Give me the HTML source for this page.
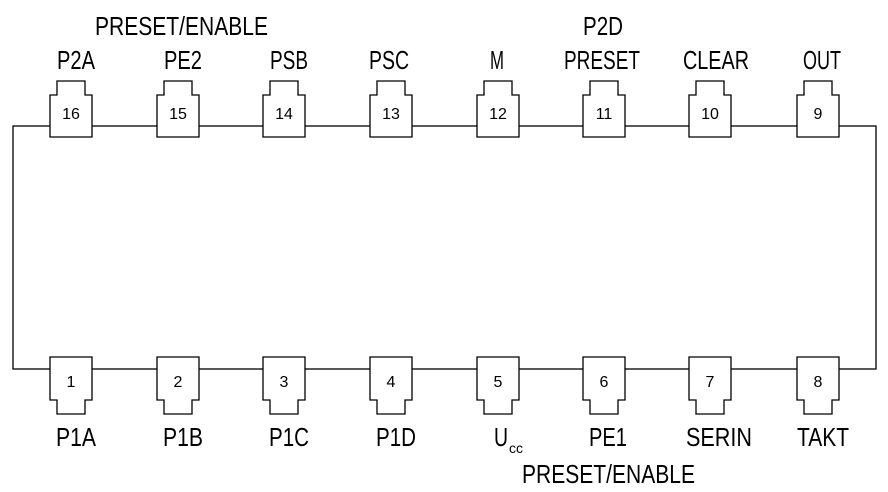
<!DOCTYPE html>
<html><head><meta charset="utf-8"><style>html,body{margin:0;padding:0;background:#fff}svg{display:block}</style></head>
<body>
<svg width="888" height="492" viewBox="0 0 888 492" xmlns="http://www.w3.org/2000/svg">
<rect x="13" y="126" width="863" height="243" fill="none" stroke="#000" stroke-width="1.3"/>
<g stroke="#000" stroke-width="1.3" fill="#fff">
<path d="M50,95 H57 V81 H85 V95 H92 V137 H50 Z"/>
<path d="M157,95 H164 V81 H192 V95 H199 V137 H157 Z"/>
<path d="M263,95 H270 V81 H298 V95 H305 V137 H263 Z"/>
<path d="M370,95 H377 V81 H405 V95 H412 V137 H370 Z"/>
<path d="M477,95 H484 V81 H512 V95 H519 V137 H477 Z"/>
<path d="M583,95 H590 V81 H618 V95 H625 V137 H583 Z"/>
<path d="M689,95 H696 V81 H724 V95 H731 V137 H689 Z"/>
<path d="M797,95 H804 V81 H832 V95 H839 V137 H797 Z"/>
<path d="M50,357 H92 V400 H85 V414 H57 V400 H50 Z"/>
<path d="M157,357 H199 V400 H192 V414 H164 V400 H157 Z"/>
<path d="M263,357 H305 V400 H298 V414 H270 V400 H263 Z"/>
<path d="M370,357 H412 V400 H405 V414 H377 V400 H370 Z"/>
<path d="M477,357 H519 V400 H512 V414 H484 V400 H477 Z"/>
<path d="M583,357 H625 V400 H618 V414 H590 V400 H583 Z"/>
<path d="M689,357 H731 V400 H724 V414 H696 V400 H689 Z"/>
<path d="M797,357 H839 V400 H832 V414 H804 V400 H797 Z"/>
</g>
<g font-family="Liberation Sans, sans-serif" font-size="16" text-anchor="middle" fill="#000">
<text x="71" y="119">16</text><text x="178" y="119">15</text><text x="284" y="119">14</text><text x="391" y="119">13</text>
<text x="498" y="119">12</text><text x="604" y="119">11</text><text x="710" y="119">10</text><text x="818" y="119">9</text>
<text x="71" y="387">1</text><text x="178" y="387">2</text><text x="284" y="387">3</text><text x="391" y="387">4</text>
<text x="498" y="387">5</text><text x="604" y="387">6</text><text x="710" y="387">7</text><text x="818" y="387">8</text>
</g>
<g font-family="Liberation Sans, sans-serif" font-size="26" fill="#000">
<text x="95" y="35" textLength="173" lengthAdjust="spacingAndGlyphs">PRESET/ENABLE</text>
<text x="583" y="35" textLength="40" lengthAdjust="spacingAndGlyphs">P2D</text>
<text x="57" y="69" textLength="38" lengthAdjust="spacingAndGlyphs">P2A</text>
<text x="164" y="69" textLength="38" lengthAdjust="spacingAndGlyphs">PE2</text>
<text x="270" y="69" textLength="38" lengthAdjust="spacingAndGlyphs">PSB</text>
<text x="369" y="69" textLength="40" lengthAdjust="spacingAndGlyphs">PSC</text>
<text x="490" y="69" textLength="14" lengthAdjust="spacingAndGlyphs">M</text>
<text x="564" y="69" textLength="76" lengthAdjust="spacingAndGlyphs">PRESET</text>
<text x="683" y="69" textLength="66" lengthAdjust="spacingAndGlyphs">CLEAR</text>
<text x="803" y="69" textLength="38" lengthAdjust="spacingAndGlyphs">OUT</text>
<text x="56" y="446" textLength="40" lengthAdjust="spacingAndGlyphs">P1A</text>
<text x="163" y="446" textLength="40" lengthAdjust="spacingAndGlyphs">P1B</text>
<text x="269" y="446" textLength="40" lengthAdjust="spacingAndGlyphs">P1C</text>
<text x="376" y="446" textLength="40" lengthAdjust="spacingAndGlyphs">P1D</text>
<text x="494" y="446" textLength="14" lengthAdjust="spacingAndGlyphs">U</text>
<text x="509" y="453" font-size="14" textLength="14" lengthAdjust="spacingAndGlyphs">cc</text>
<text x="589" y="446" textLength="38" lengthAdjust="spacingAndGlyphs">PE1</text>
<text x="686" y="446" textLength="66" lengthAdjust="spacingAndGlyphs">SERIN</text>
<text x="797" y="446" textLength="52" lengthAdjust="spacingAndGlyphs">TAKT</text>
<text x="522" y="483" textLength="173" lengthAdjust="spacingAndGlyphs">PRESET/ENABLE</text>
</g>
</svg>
</body></html>
